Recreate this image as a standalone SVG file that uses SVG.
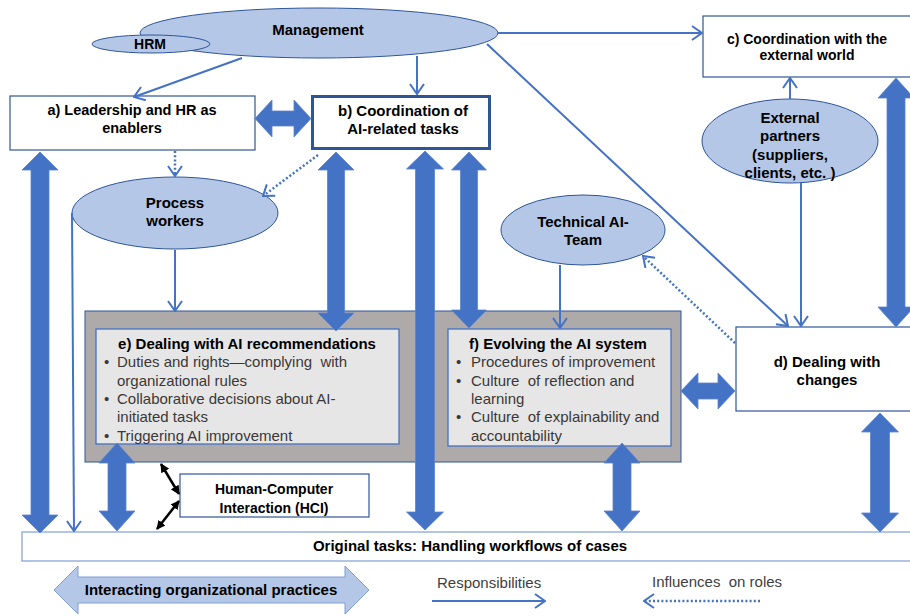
<svg xmlns="http://www.w3.org/2000/svg" width="910" height="616" viewBox="0 0 910 616">
  <defs>
    <style>
      .t { font-family: "Liberation Sans", Arial, sans-serif; fill: #000; white-space: pre; }
      .b { font-weight: bold; font-size: 15px; text-anchor: middle; }
      .b14 { font-weight: bold; font-size: 14px; text-anchor: middle; }
      .r { font-size: 15px; fill: #3a3838; }
      .actor { fill: #b4c7e7; stroke: #2f5597; stroke-width: 1; }
      .box { fill: #fff; stroke: #2f5597; stroke-width: 1.2; }
      .inner { fill: #e7e6e6; stroke: #4472c4; stroke-width: 1.3; }
      .fat { fill: #4472c4; stroke: #5b84cf; stroke-width: 0.8; }
      .thin { fill: none; stroke: #4472c4; stroke-width: 2; marker-end: url(#open); }
      .dot { fill: none; stroke: #4472c4; stroke-width: 2.5; stroke-dasharray: 2 2.2; marker-end: url(#open); }
      .hci { fill: none; stroke: #000; stroke-width: 2.5; marker-start: url(#blk); marker-end: url(#blk); }
    </style>
    <marker id="open" viewBox="0 0 12 16" markerWidth="12" markerHeight="16" refX="11" refY="8" orient="auto" markerUnits="userSpaceOnUse">
      <path d="M1,1 L11,8 L1,15" fill="none" stroke="#4472c4" stroke-width="2"/>
    </marker>
    <marker id="blk" viewBox="0 0 10 10" markerWidth="9" markerHeight="9" refX="9" refY="5" orient="auto-start-reverse" markerUnits="userSpaceOnUse">
      <path d="M0,0 L10,5 L0,10 Z" fill="#000"/>
    </marker>
  </defs>

  <rect width="910" height="616" fill="#fff"/>

  <!-- actors -->
  <g id="management">
    <ellipse class="actor" cx="319" cy="33" rx="179" ry="25"/>
    <text class="t b" x="318" y="35">Management</text>
  </g>
  <g id="hrm">
    <ellipse class="actor" cx="151" cy="44" rx="59" ry="9"/>
    <text class="t b14" x="150" y="49">HRM</text>
  </g>

  <!-- practice boxes -->
  <g id="leadership">
    <rect class="box" x="10" y="96" width="245" height="54"/>
    <text class="t b" x="132" y="115" style="font-size:14.5px">a) Leadership and HR as</text>
    <text class="t b" x="132" y="133" style="font-size:14.5px">enablers</text>
  </g>
  <g id="coordination-ai">
    <rect x="312.5" y="96.5" width="177" height="52" fill="#fff" stroke="#2f5597" stroke-width="3"/>
    <text class="t b" x="403" y="116">b) Coordination of</text>
    <text class="t b" x="403" y="134">AI-related tasks</text>
  </g>
  <g id="coordination-external">
    <rect class="box" x="703" y="16" width="215" height="61"/>
    <text class="t b14" x="807" y="44">c) Coordination with the</text>
    <text class="t b14" x="807" y="60">external world</text>
  </g>
  <g id="external-partners">
    <ellipse class="actor" cx="790" cy="141" rx="88" ry="42"/>
    <text class="t b" x="790" y="123">External</text>
    <text class="t b" x="790" y="141">partners</text>
    <text class="t b" x="790" y="160">(suppliers,</text>
    <text class="t b" x="790" y="178">clients, etc. )</text>
  </g>
  <g id="process-workers">
    <ellipse class="actor" cx="175" cy="213" rx="103" ry="36"/>
    <text class="t b" x="175" y="208">Process</text>
    <text class="t b" x="175" y="226">workers</text>
  </g>
  <g id="technical-team">
    <ellipse class="actor" cx="583" cy="230" rx="82" ry="35"/>
    <text class="t b" x="583" y="227">Technical AI-</text>
    <text class="t b" x="583" y="245">Team</text>
  </g>
  <g id="dealing-changes">
    <rect class="box" x="736" y="327" width="182" height="84"/>
    <text class="t b" x="827" y="367">d) Dealing with</text>
    <text class="t b" x="827" y="385">changes</text>
  </g>

  <!-- shared practice area with e) and f) -->
  <g id="practice-area">
    <rect x="85" y="311" width="596" height="151" fill="#aeaaaa" stroke="#2f5597" stroke-width="1"/>
  </g>
  <g id="ai-recommendations">
    <rect class="inner" x="96" y="329" width="303" height="115"/>
    <text class="t b" x="247" y="349">e) Dealing with AI recommendations</text>
    <text class="t r" x="104" y="367">•</text>
    <text class="t r" x="117" y="367">Duties and rights—complying  with</text>
    <text class="t r" x="117" y="386">organizational rules</text>
    <text class="t r" x="104" y="404">•</text>
    <text class="t r" x="117" y="404">Collaborative decisions about AI-</text>
    <text class="t r" x="117" y="422">initiated tasks</text>
    <text class="t r" x="104" y="441">•</text>
    <text class="t r" x="117" y="441">Triggering AI improvement</text>
  </g>
  <g id="evolving-ai">
    <rect class="inner" x="448" y="329" width="223" height="117"/>
    <text class="t b" x="558" y="349">f) Evolving the AI system</text>
    <text class="t r" x="456" y="367">•</text>
    <text class="t r" x="471" y="367">Procedures of improvement</text>
    <text class="t r" x="456" y="386">•</text>
    <text class="t r" x="471" y="386">Culture  of reflection and</text>
    <text class="t r" x="471" y="404">learning</text>
    <text class="t r" x="456" y="422">•</text>
    <text class="t r" x="471" y="422">Culture  of explainability and</text>
    <text class="t r" x="471" y="441">accountability</text>
  </g>

  <g id="hci">
    <rect class="box" x="180" y="474" width="189" height="43"/>
    <text class="t b14" x="274" y="494">Human-Computer</text>
    <text class="t b14" x="274" y="513">Interaction (HCI)</text>
  </g>
  <g id="original-tasks">
    <rect x="22" y="532" width="896" height="29" fill="#fff" stroke="#7f9fd6" stroke-width="1.2"/>
    <text class="t b" x="470" y="551">Original tasks: Handling workflows of cases</text>
  </g>

  <!-- connectors -->
  <g id="connectors">
    <!-- responsibilities (solid) -->
    <line class="thin" x1="242" y1="58" x2="134" y2="97"/>
    <line class="thin" x1="417" y1="56" x2="417" y2="94"/>
    <line class="thin" x1="498" y1="33" x2="702" y2="33"/>
    <line class="thin" x1="487" y1="44" x2="788" y2="326"/>
    <line class="thin" x1="790" y1="99" x2="790" y2="78"/>
    <line class="thin" x1="801" y1="183" x2="801" y2="326"/>
    <line class="thin" x1="560" y1="265" x2="560" y2="328"/>
    <line class="thin" x1="175" y1="250" x2="175" y2="311"/>
    <line class="thin" x1="72" y1="213" x2="74" y2="531"/>
    <!-- influences on roles (dotted) -->
    <line class="dot" x1="175" y1="151" x2="175" y2="176"/>
    <line class="dot" x1="318" y1="155" x2="263" y2="196"/>
    <line class="dot" x1="735" y1="343" x2="643" y2="256"/>
    <!-- interacting practices (block double arrows) -->
    <path class="fat" d="M255,118.5 L272,100 L272,111 L294,111 L294,100 L311,118.5 L294,137 L294,126 L272,126 L272,137 Z"/>
    <path class="fat" d="M681,391 L698,373 L698,383 L718,383 L718,373 L735,391 L718,409 L718,399 L698,399 L698,409 Z"/>
    <path class="fat" d="M40,152 L58,170 L49,170 L49,515 L58,515 L40,533 L22,515 L31,515 L31,170 L22,170 Z"/>
    <path class="fat" d="M336,152 L354,170 L344.5,170 L344.5,313 L354,313 L336,331 L318,313 L327.5,313 L327.5,170 L318,170 Z"/>
    <path class="fat" d="M425,151 L443.5,169 L434.5,169 L434.5,512 L443.5,512 L425,530 L406.5,512 L415.5,512 L415.5,169 L406.5,169 Z"/>
    <path class="fat" d="M469,152 L486.5,170 L477.5,170 L477.5,310 L486.5,310 L469,328 L451.5,310 L460.5,310 L460.5,170 L451.5,170 Z"/>
    <path class="fat" d="M117,443 L135,463 L126,463 L126,511 L135,511 L117,531 L99,511 L108,511 L108,463 L99,463 Z"/>
    <path class="fat" d="M622,443 L640,463 L631,463 L631,511 L640,511 L622,531 L604,511 L613,511 L613,463 L604,463 Z"/>
    <path class="fat" d="M880,413 L898.5,432 L889.5,432 L889.5,513 L898.5,513 L880,532 L861.5,513 L870.5,513 L870.5,432 L861.5,432 Z"/>
    <path class="fat" d="M896,78 L914,98 L905,98 L905,307 L914,307 L896,327 L878,307 L887,307 L887,98 L878,98 Z"/>
    <!-- HCI links -->
    <line class="hci" x1="161" y1="464" x2="179" y2="494"/>
    <line class="hci" x1="179" y1="501" x2="157" y2="529"/>
  </g>

  <!-- legend -->
  <g id="legend">
    <path d="M54,590 L78,566 L78,577 L345,577 L345,566 L369,590 L345,614 L345,603 L78,603 L78,614 Z" fill="#b4c7e7" stroke="#7f9fd6" stroke-width="1"/>
    <text class="t b" x="211" y="595">Interacting organizational practices</text>
    <text class="t r" x="437" y="588" style="fill:#404040">Responsibilities</text>
    <line class="thin" x1="432" y1="601" x2="545" y2="601"/>
    <text class="t r" x="652" y="587" style="fill:#404040">Influences  on roles</text>
    <line class="dot" x1="760" y1="601" x2="644" y2="601"/>
  </g>
</svg>
